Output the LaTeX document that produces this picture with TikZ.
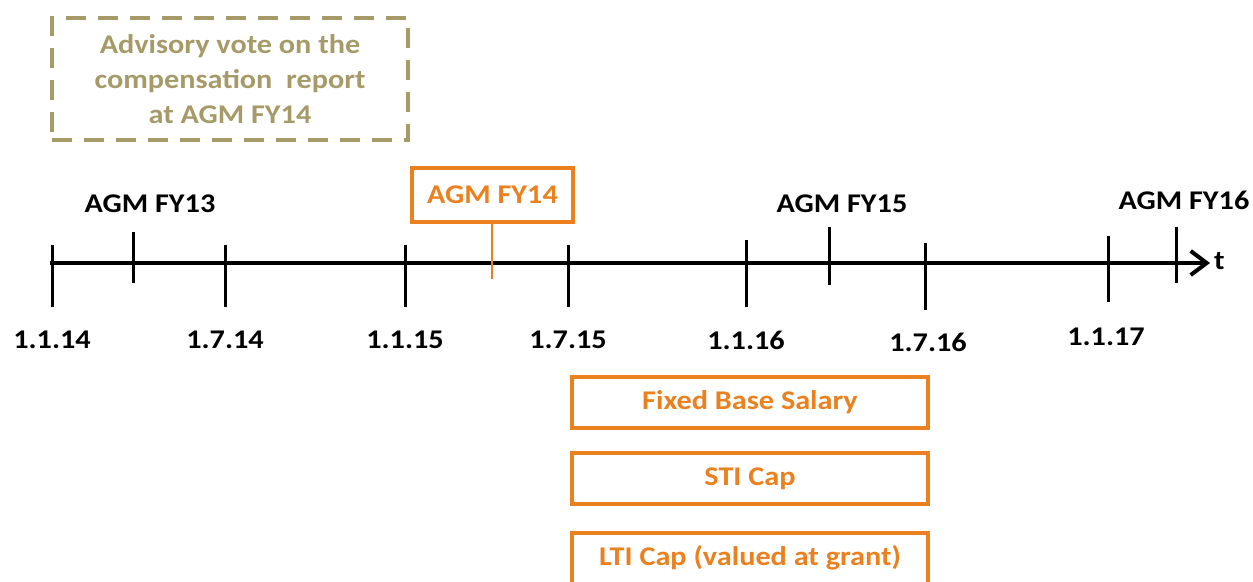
\documentclass[tikz,border=0pt]{standalone}
\usepackage{fontspec}
\setmainfont{Carlito}[FakeStretch=1.12]
\usetikzlibrary{arrows.meta}
\definecolor{votegold}{RGB}{166,154,104}
\definecolor{agmorange}{RGB}{234,128,30}

\begin{document}
\begin{tikzpicture}[x=1pt,y=-1pt,
    font=\bfseries\fontsize{27}{32}\selectfont,
    tick/.style={line width=3pt},
    datelabel/.style={inner sep=0pt},
    capbox/.style={draw=agmorange, line width=4pt, text=agmorange,
      minimum width=356pt, minimum height=51pt, inner sep=0pt}]
    \useasboundingbox (0,0) rectangle (1253,581);
    % Advisory vote
    \node[draw=votegold, line width=4pt, dash pattern=on 20pt off 12pt,
      text=votegold, align=center, minimum width=356pt, minimum height=122pt,
      inner sep=0pt, font=\bfseries\fontsize{27}{35}\selectfont]
      (vote) at (230,79) {Advisory vote on the\\compensation\ \ report\\at AGM FY14};
    % Time axis
    \coordinate (start) at (50,263);
    \coordinate (end) at (1210,263);
    \draw[line width=4pt, -{Straight Barb[length=16pt,width=24pt,line width=4pt]}] (start) -- (end);
    \node[datelabel, anchor=west] (t) at (1214,261) {t};
    % Ticks
    \foreach \x/\a/\b in {52/245/307, 133/232/283, 225/245/307, 405/245/307,
        568/245/307, 746/240/307, 829/227/285, 925/243/310, 1108/236/302, 1176/227/283}
      \draw[tick] (\x,\a) -- (\x,\b);
    % Dates
    \node[datelabel] (d1) at (52,340) {1.1.14};
    \node[datelabel] (d2) at (225,340) {1.7.14};
    \node[datelabel] (d3) at (405,340) {1.1.15};
    \node[datelabel] (d4) at (568,340) {1.7.15};
    \node[datelabel] (d5) at (746,340) {1.1.16};
    \node[datelabel] (d6) at (928,342) {1.7.16};
    \node[datelabel] (d7) at (1106,337) {1.1.17};
    % AGMs
    \node[datelabel] (fy13) at (150,204) {AGM FY13};
    \node[draw=agmorange, line width=4pt, text=agmorange, minimum width=161pt,
      minimum height=54pt, inner sep=0pt] (fy14) at (492.5,195) {AGM FY14};
    \coordinate (fy14tick) at (492,279);
    \draw[agmorange, line width=2.5pt] (fy14.south -| fy14tick) -- (fy14tick);
    \node[datelabel] (fy15) at (842,204) {AGM FY15};
    \node[datelabel] (fy16) at (1184,200) {AGM FY16};
    % Caps
    \node[capbox] (fixed) at (750,402.5) {Fixed Base Salary};
    \node[capbox] (sti) at (750,478.5) {STI Cap};
    \node[capbox] (lti) at (750,558) {LTI Cap (valued at grant)};
\end{tikzpicture}
\end{document}
